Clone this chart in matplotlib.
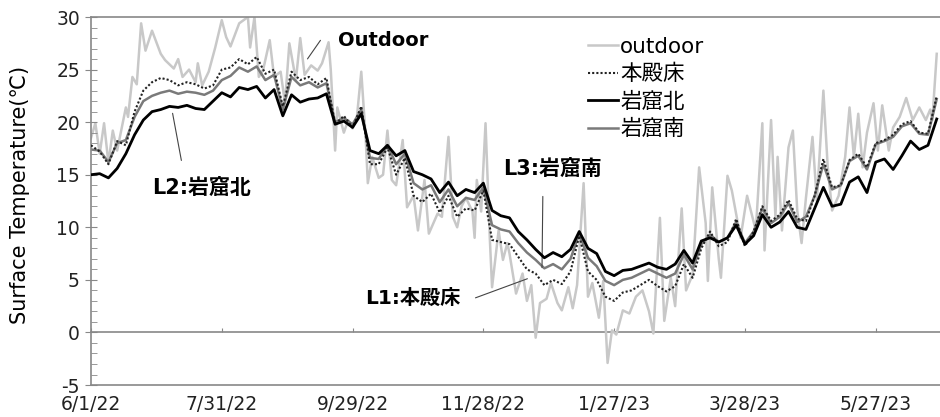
import numpy as np
import pandas as pd
import matplotlib
matplotlib.use('Agg')
import matplotlib.pyplot as plt

plt.rcParams['font.family'] = ['DejaVu Sans', 'Noto Sans CJK JP']
plt.rcParams['axes.unicode_minus'] = False

#%% data (days since 6/1/22)

start = pd.Timestamp('2022-06-01')

# sensors, every 4 days
sensor_days = np.arange(0, 389, 4)

kita = [15.0, 15.1, 14.7, 15.6, 17.0, 18.8, 20.2, 21.0, 21.2, 21.5,
        21.4, 21.6, 21.3, 21.2, 22.0, 22.8, 22.4, 23.3, 23.1, 23.4,
        22.3, 23.1, 20.6, 22.6, 21.9, 22.2, 22.3, 22.7, 19.8, 20.1,
        19.5, 20.8, 17.3, 17.0, 17.8, 16.8, 17.3, 15.3, 15.0, 14.6,
        13.3, 14.3, 13.0, 13.6, 13.3, 14.2, 11.6, 11.1, 10.9, 9.6,
        8.8, 7.9, 7.1, 7.6, 7.2, 7.9, 9.6, 8.0, 7.5, 5.8,
        5.4, 5.9, 6.0, 6.3, 6.6, 6.2, 6.0, 6.5, 7.8, 6.6,
        8.7, 9.0, 8.6, 9.0, 10.2, 8.4, 9.2, 11.2, 10.0, 10.5,
        11.5, 10.0, 9.8, 11.8, 13.8, 12.0, 12.2, 14.3, 14.8, 13.3,
        16.2, 16.5, 15.5, 16.8, 18.2, 17.4, 17.8, 20.3]

minami = [17.4, 17.3, 16.2, 18.0, 18.3, 20.5, 22.0, 22.5, 22.8, 23.0,
          22.7, 22.9, 22.8, 22.6, 23.0, 24.0, 24.4, 25.2, 24.8, 25.3,
          24.0, 24.5, 21.2, 24.3, 23.5, 23.8, 23.3, 23.7, 20.0, 20.4,
          19.8, 21.2, 16.6, 16.5, 17.8, 16.0, 17.0, 14.2, 13.6, 14.0,
          12.4, 13.6, 12.0, 12.8, 12.6, 13.8, 10.2, 9.8, 9.6, 8.5,
          7.6, 6.9, 6.1, 6.5, 6.0, 7.0, 9.4, 7.1, 6.3, 4.9,
          4.5, 5.0, 5.2, 5.6, 6.0, 5.6, 5.2, 5.6, 7.4, 6.0,
          8.4, 9.3, 8.6, 9.0, 10.5, 8.5, 9.6, 11.8, 10.4, 11.0,
          12.3, 10.5, 11.0, 13.0, 16.0, 13.6, 14.0, 16.3, 16.8, 15.5,
          17.9, 18.2, 18.6, 19.6, 19.9, 18.9, 18.8, 22.2]

honden = [17.8, 17.2, 16.0, 18.2, 17.8, 21.0, 23.0, 23.8, 24.2, 24.0,
          23.5, 23.8, 23.6, 23.2, 23.5, 25.0, 25.2, 26.0, 25.5, 26.2,
          24.6, 25.0, 21.5, 24.8, 24.0, 24.3, 23.6, 24.2, 19.8, 20.6,
          19.5, 21.5, 16.0, 16.0, 17.6, 15.0, 16.6, 13.0, 12.4, 13.2,
          11.4, 13.0, 11.0, 11.8, 11.6, 13.5, 8.8, 8.6, 8.4, 7.2,
          6.0, 5.6, 4.5, 5.0, 4.6, 5.8, 9.2, 5.8, 5.0, 3.4,
          3.0, 3.8, 4.0, 4.5, 5.0, 4.4, 3.9, 4.4, 6.5, 5.2,
          8.0, 9.6, 8.2, 8.6, 10.8, 8.2, 9.6, 12.0, 10.6, 11.2,
          12.6, 10.8, 10.6, 13.0, 16.5, 13.8, 14.0, 16.4, 17.0, 15.7,
          18.0, 18.3, 18.8, 19.8, 20.1, 19.0, 18.9, 22.5]

# outdoor: peaks and troughs
outdoor_days = [0, 2, 4, 6, 8, 10, 12, 16, 17, 19, 21, 23, 25, 28, 32, 34, 38, 40,
                42, 45, 48, 49, 51, 54, 57, 60, 62, 64, 68, 72, 73, 75, 77, 79,
                82, 84, 87, 89, 91, 94, 96, 98, 101, 104, 106, 109, 110, 112,
                113, 116, 118, 120, 122, 124, 126, 127, 129, 132, 134, 136, 138,
                140, 143, 145, 148, 150, 153, 155, 159, 161, 164, 166, 168, 170,
                172, 175, 176, 177, 179, 181, 183, 184, 187, 189, 191, 192, 195,
                198, 200, 202, 204, 206, 209, 211, 214, 216, 219, 221, 223, 226,
                228, 230, 233, 235, 237, 239, 241, 244, 247, 250, 253, 256, 258,
                261, 263, 266, 268, 271, 273, 276, 279, 282, 283, 285, 288, 289,
                292, 294, 298, 301, 305, 308, 309, 312, 314, 315, 317, 320, 322,
                324, 326, 328, 331, 333, 336, 338, 340, 343, 346, 348, 350, 352,
                354, 356, 359, 361, 363, 366, 368, 371, 374, 377, 380, 383, 385,
                386, 388]
outdoor = [18.5, 19.9, 17.0, 19.9, 16.1, 19.2, 17.3, 21.4, 20.5, 24.3, 23.6, 29.4,
           26.8, 28.7, 26.5, 25.9, 25.1, 26.0, 24.3, 25.0, 23.8, 25.6, 23.5, 24.8,
           27.1, 29.7, 28.1, 27.2, 29.4, 30.0, 27.1, 30.0, 24.3, 25.0, 27.8, 24.3,
           24.8, 21.8, 27.5, 24.0, 28.0, 24.5, 25.4, 24.9, 25.6, 27.6, 25.0, 17.3,
           21.4, 19.0, 20.2, 19.4, 20.5, 24.8, 18.6, 14.2, 16.7, 14.7, 15.0, 19.2,
           14.5, 14.0, 18.3, 11.9, 13.0, 9.7, 14.5, 9.4, 11.3, 11.0, 18.6, 11.0,
           10.0, 12.0, 12.8, 11.5, 9.0, 14.5, 11.5, 19.9, 8.8, 4.3, 9.7, 6.9,
           8.5, 7.5, 3.7, 5.6, 3.0, 4.5, -0.5, 2.8, 3.2, 4.7, 2.8, 2.1, 4.3,
           2.3, 4.5, 14.2, 3.4, 4.7, 1.4, 4.9, -2.9, 0.2, -0.2, 2.1, 1.8, 3.4,
           4.0, 2.0, -0.1, 10.9, 1.1, 5.2, 2.5, 11.8, 4.0, 5.5, 15.7, 10.4, 4.9,
           13.8, 7.0, 5.2, 14.9, 13.5, 9.0, 13.0, 9.7, 19.9, 7.8, 20.2, 11.0,
           16.7, 9.7, 17.6, 19.2, 11.6, 8.5, 12.8, 18.6, 12.5, 23.0, 15.7, 11.6,
           13.0, 16.7, 21.4, 16.7, 20.8, 15.7, 19.0, 21.8, 17.3, 21.6, 17.3, 19.5,
           20.5, 22.3, 20.2, 21.4, 20.2, 21.2, 20.2, 26.5]

tick_labels = ['6/1/22', '7/31/22', '9/29/22', '11/28/22', '1/27/23', '3/28/23', '5/27/23']

sensor_dates = start + pd.to_timedelta(sensor_days, unit='D')
outdoor_dates = start + pd.to_timedelta(outdoor_days, unit='D')

#%% plotting

fig = plt.figure(figsize=(9.4, 4.17), dpi=100)
ax = fig.add_axes([0.0968, 0.0767, 0.9032, 0.8825])

l_out, = ax.plot(outdoor_dates, outdoor, color='#c8c8c8', lw=1.8, zorder=1, label='outdoor')
l_min, = ax.plot(sensor_dates, minami, color='#7a7a7a', lw=1.8, zorder=2, label='岩窟南')
l_hon, = ax.plot(sensor_dates, honden, color='#222222', lw=1.5, ls=(0, (1, 1)), zorder=3, label='本殿床')
l_kita, = ax.plot(sensor_dates, kita, color='black', lw=2.0, zorder=4, label='岩窟北')

ax.set_ylim(-5, 30)
ax.set_xlim(start, start + pd.Timedelta(days=389.5))
ax.set_yticks(np.arange(-5, 31, 5))
ax.set_yticks(np.arange(-5, 31, 1), minor=True)

ticks = start + pd.to_timedelta(np.arange(0, 361, 60), unit='D')
ax.set_xticks(ticks)
ax.set_xticklabels(tick_labels)
ax.tick_params(axis='x', length=0, labelsize=13.5, pad=7)
ax.tick_params(axis='y', which='major', direction='inout', length=8, labelsize=13.5,
               color='#888888', pad=4)
ax.tick_params(axis='y', which='minor', direction='in', length=4, color='#888888')
for lab in ax.get_xticklabels() + ax.get_yticklabels():
    lab.set_color('#222222')

for s in ['left', 'bottom', 'top']:
    ax.spines[s].set_color('#888888')
    ax.spines[s].set_linewidth(1.2)
ax.spines['right'].set_visible(False)

# zero line with the date ticks on it
sec = ax.secondary_xaxis(5 / 35)
sec.set_xticks(ticks)
sec.set_xticklabels([])
sec.tick_params(direction='in', length=3, color='#888888')
sec.spines['bottom'].set_color('#888888')
sec.spines['bottom'].set_linewidth(1.2)

ax.set_ylabel('Surface Temperature(℃)', fontsize=15)
ax.yaxis.set_label_coords(-0.072, 0.516)

# labels with leader lines
def day(d):
    return start + pd.Timedelta(days=d)

ax.text(day(113.3), 27.8, 'Outdoor', fontsize=14, fontweight='bold', va='center')
ax.annotate('', xy=(day(98.6), 25.8), xytext=(day(106), 28.0),
            arrowprops=dict(arrowstyle='-', color='#444444', lw=0.8))
ax.text(day(28), 13.7, 'L2:岩窟北', fontsize=15, fontweight='bold', va='center')
ax.annotate('', xy=(day(37.2), 21.1), xytext=(day(41.7), 16.1),
            arrowprops=dict(arrowstyle='-', color='#444444', lw=0.8))
ax.text(day(189), 15.6, 'L3:岩窟南', fontsize=15, fontweight='bold', va='center')
ax.annotate('', xy=(day(207.3), 13.2), xytext=(day(206.9), 5.9),
            arrowprops=dict(arrowstyle='-', color='#444444', lw=0.8))
ax.text(day(125.7), 3.2, 'L1:本殿床', fontsize=14.5, fontweight='bold', va='center')
ax.annotate('', xy=(day(175.2), 3.2), xytext=(day(201.4), 5.2),
            arrowprops=dict(arrowstyle='-', color='#444444', lw=0.8))

ax.legend(handles=[l_out, l_hon, l_kita, l_min], loc='upper left',
          bbox_to_anchor=(0.575, 0.97), frameon=False, fontsize=15.5,
          handlelength=1.4, handletextpad=0.1, labelspacing=0.34, borderaxespad=0)

fig.savefig('out.png', dpi=100)
